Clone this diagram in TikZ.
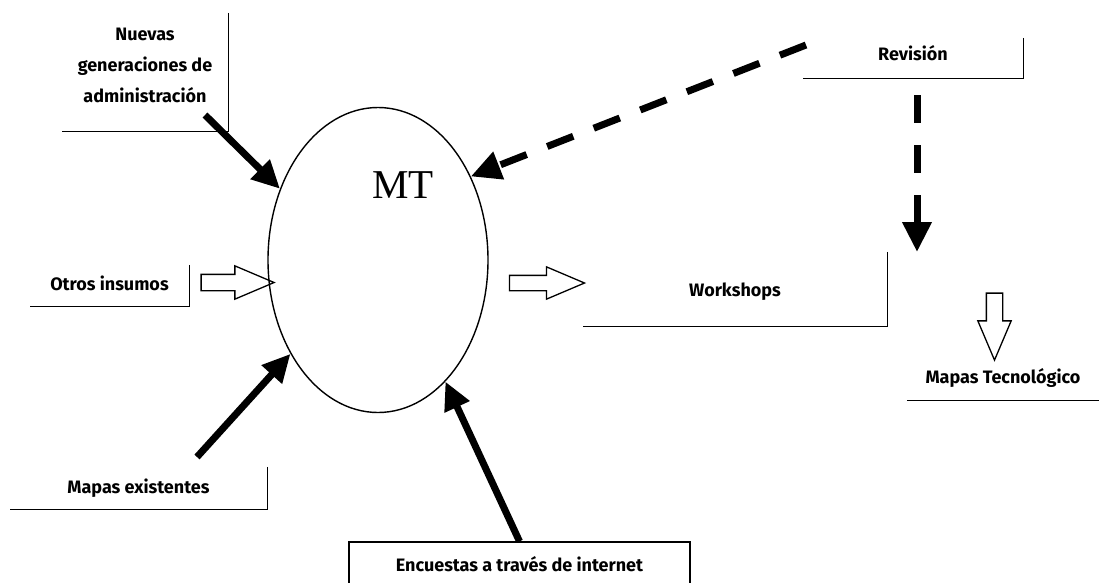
\documentclass[tikz,border=0pt]{standalone}
\usepackage{fontspec}
\newfontfamily\lblfont{Fira Sans}
\newfontfamily\mtfont{Liberation Serif}
\usepackage{tikz}
\usetikzlibrary{arrows.meta,positioning,shapes.geometric,shapes.arrows}

\begin{document}
\begin{tikzpicture}[
  x=1pt,y=-1pt,
  lbl/.style={inner sep=0pt,align=center,
              font=\lblfont\bfseries\fontsize{18}{31}\selectfont},
  lframe/.style={line width=1.3pt},
  heavy/.style={-{Triangle[length=28pt,width=26pt]},line width=7pt},
  dashy/.style={-{Triangle[length=30pt,width=28pt]},line width=7pt,
                dash pattern=on 28pt off 22pt},
  hollow/.style={draw,single arrow,single arrow tip angle=46,
                 single arrow head extend=8.5pt,inner xsep=0pt,inner ysep=7.5pt,
                 line width=1.3pt}
]
\useasboundingbox (0,0) rectangle (1099,582);
\node[draw,ellipse,line width=1.4pt,minimum width=220pt,minimum height=305pt] (mapa) at (378,260) {};
\node[font=\mtfont\fontsize{41}{41}\selectfont] (mt) at (403,185) {MT};

\node[lbl,minimum width=166pt,minimum height=131pt] (nuevas) at (145,65.5) {Nuevas\\generaciones de\\administración};
\node[lbl,minimum width=220pt,minimum height=50pt] (revision) at (913,53) {Revisión};
\node[lbl,minimum width=159pt,minimum height=46pt] (otros) at (109.5,283) {Otros insumos};
\node[lbl,minimum width=304pt,minimum height=68pt] (workshops) at (735,292) {Workshops};
\node[lbl,minimum width=192pt,minimum height=44pt] (mapastec) at (1003,378) {Mapas Tecnológico};
\node[lbl,minimum width=257pt,minimum height=42pt] (existentes) at (138.5,488) {Mapas existentes};
\node[lbl,draw,line width=1.3pt,minimum width=341pt,minimum height=44pt] (encuestas) at (519.5,564) {Encuestas a través de internet};

\draw[lframe] ([yshift=-13pt]nuevas.north east) -- (nuevas.south east) -- (nuevas.south west);
\draw[lframe] ([yshift=-10pt]revision.north east) -- (revision.south east) -- (revision.south west);
\draw[lframe] ([yshift=-5pt]otros.north east) -- (otros.south east) -- (otros.south west);
\draw[lframe] ([yshift=6pt]workshops.north east) -- (workshops.south east) -- (workshops.south west);
\draw[lframe] (mapastec.south west) -- (mapastec.south east);
\draw[lframe] (existentes.north east) -- (existentes.south east) -- (existentes.south west);

\node[hollow,minimum height=73pt] (insarrow) at (228,282.5) {};
\node[hollow,minimum height=75pt,inner ysep=7pt] (outarrow) at (538,283) {};
\node[hollow,minimum height=67pt,shape border rotate=270,inner xsep=7.5pt,inner ysep=0pt] (tecarrow) at (994.5,317) {};

\coordinate (nuevastail) at (205,115);
\coordinate (existtail) at (197,457);
\coordinate (revtail) at (806,45);
\coordinate (revtip) at (917,252);

\draw[heavy] (nuevastail) -- (mapa.144);
\draw[heavy] (existtail) -- (mapa.227);
\draw[heavy] (encuestas.north) -- (mapa.299);
\draw[dashy] (revtail) -- (mapa.42);
\draw[dashy] ([xshift=4pt,yshift=-17pt]revision.south) -- (revtip);
\end{tikzpicture}
\end{document}
